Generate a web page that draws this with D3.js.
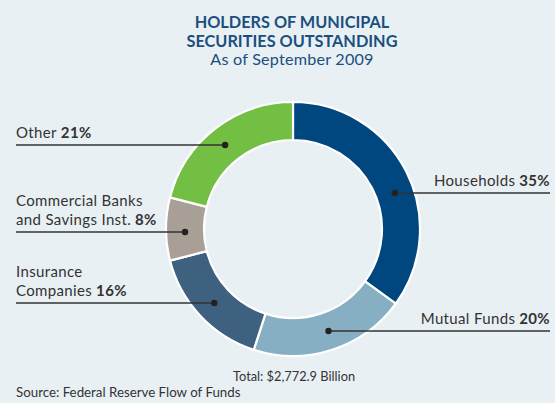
<!DOCTYPE html>
<html>
<head>
<meta charset="utf-8">
<script src="https://cdn.jsdelivr.net/npm/d3@7"></script>
<style>
  html, body { margin: 0; padding: 0; background: #e9f0f4; }
  svg { display: block; font-family: Lato, "Open Sans", sans-serif; }
</style>
</head>
<body>
<div id="chart"></div>
<script>
// holders of municipal securities, share of total (%)
var categories = ["Households", "Mutual Funds", "Insurance Companies", "Commercial Banks and Savings Inst.", "Other"];
var shares = [35, 20, 16, 8, 21];
var colors = ["#00467f", "#86afc3", "#3f6180", "#a89f97", "#72bf44"];
// label text lines (last line gets the bold percent)
var labelLines = [
  ["Households"],
  ["Mutual Funds"],
  ["Insurance", "Companies"],
  ["Commercial Banks", "and Savings Inst."],
  ["Other"]
];

var w = 555, h = 403;
var cx = 293, cy = 229, rOut = 127, rIn = 89;
var rMid = (rOut + rIn) / 2;

var svg = d3.select("#chart").append("svg").attr("width", w).attr("height", h);

svg.append("rect").attr("width", w).attr("height", h).attr("fill", "#e9f0f4");

// title
var title = svg.append("g").attr("text-anchor", "middle").attr("fill", "#1b4f7e");
title.append("text").attr("x", 292).attr("y", 28)
  .style("font-weight", "bold").style("font-size", "16.3px").text("HOLDERS OF MUNICIPAL");
title.append("text").attr("x", 292).attr("y", 47)
  .style("font-weight", "bold").style("font-size", "16.3px").text("SECURITIES OUTSTANDING");
title.append("text").attr("x", 292).attr("y", 65)
  .style("font-size", "16.2px").style("letter-spacing", "0.2px").text("As of September 2009");

var data = categories.map(function(c, i) {
  return { name: c, value: shares[i], color: colors[i], lines: labelLines[i] };
});

var pie = d3.pie().sort(null).value(function(d) { return d.value; });
var arc = d3.arc().innerRadius(rIn).outerRadius(rOut);
var arcs = pie(data);

var g = svg.append("g").attr("transform", "translate(" + cx + "," + cy + ")");
g.selectAll("path").data(arcs).enter().append("path")
  .attr("d", arc)
  .attr("fill", function(d) { return d.data.color; })
  .attr("stroke", "#fff")
  .attr("stroke-width", 2.2);

// label layout: y of leader line, side
var leaderY = [193, 331, 303, 232, 145];
var side = ["right", "right", "left", "left", "left"];

var labels = svg.append("g").style("font-size", "15px").style("letter-spacing", "0.35px").attr("fill", "#333");

arcs.forEach(function(a, i) {
  var ly = leaderY[i];
  var dy = ly - cy;
  var dx = Math.sqrt(rMid * rMid - dy * dy);
  var mid = (a.startAngle + a.endAngle) / 2;
  var dotX = cx + (Math.sin(mid) >= 0 ? dx : -dx);
  var right = side[i] === "right";
  var x0 = right ? dotX : 16;
  var x1 = right ? 550 : dotX;

  labels.append("line")
    .attr("x1", x0).attr("x2", x1).attr("y1", ly).attr("y2", ly)
    .attr("stroke", "#333").attr("stroke-width", 1.6);
  labels.append("circle").attr("cx", dotX).attr("cy", ly).attr("r", 3.2).attr("fill", "#222");

  var lines = a.data.lines;
  var n = lines.length;
  lines.forEach(function(t, j) {
    var tx = labels.append("text")
      .attr("x", right ? 550 : 16)
      .attr("y", ly - 7 - (n - 1 - j) * 19)
      .attr("text-anchor", right ? "end" : "start");
    tx.append("tspan").text(t);
    if (j === n - 1) {
      tx.append("tspan").style("font-weight", "bold").text(" " + a.data.value + "%");
    }
  });
});

svg.append("text").attr("x", 233).attr("y", 381)
  .style("font-size", "12.8px").attr("fill", "#333").text("Total: $2,772.9 Billion");
svg.append("text").attr("x", 16).attr("y", 397)
  .style("font-size", "13.3px").attr("fill", "#333").text("Source: Federal Reserve Flow of Funds");
</script>
</body>
</html>
